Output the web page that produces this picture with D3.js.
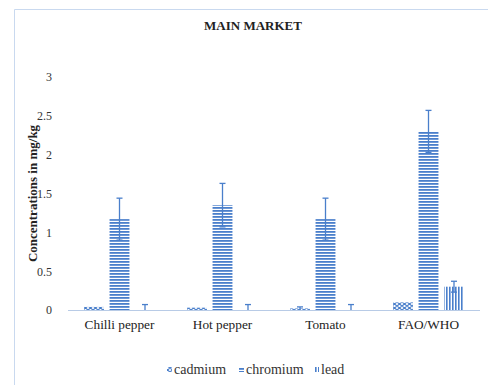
<!DOCTYPE html>
<html>
<head>
<meta charset="utf-8">
<script src="https://cdn.jsdelivr.net/npm/d3@7"></script>
<style>
  body { margin: 0; background: #fff; }
  svg { display: block; }
  svg text { font-family: 'Liberation Serif', 'Times New Roman', Times, serif; fill: #222; }
</style>
</head>
<body>
<svg id="chart" width="488" height="385"></svg>
<script>
// Heavy-metal concentrations (mg/kg) per sample, with standard-deviation error bars
const categories = ["Chilli pepper", "Hot pepper", "Tomato", "FAO/WHO"];
const metals = ["cadmium", "chromium", "lead"];
const cadmium = [0.04, 0.03, 0.02, 0.10];
const cadmiumErr = [0.00, 0.00, 0.02, 0.00];
const chromium = [1.17, 1.35, 1.17, 2.30];
const chromiumErr = [0.27, 0.28, 0.27, 0.27];
const lead = [0.00, 0.00, 0.00, 0.30];
const leadErr = [0.07, 0.07, 0.07, 0.07];
const yTicks = [0, 0.5, 1, 1.5, 2, 2.5, 3];

const values = { cadmium, chromium, lead };
const errors = { cadmium: cadmiumErr, chromium: chromiumErr, lead: leadErr };
const color = "#4a7fcb";
const serif = "'Liberation Serif', 'Times New Roman', serif";

const svg = d3.select("#chart");

// Chart frame (left and top edges)
svg.append("path")
  .attr("d", "M14.5,385 L14.5,9.5 L488,9.5")
  .attr("fill", "none").attr("stroke", "#c9d9ef").attr("stroke-width", 1);

// Fill patterns
const defs = svg.append("defs");
const pCd = defs.append("pattern").attr("id", "pat-cadmium")
  .attr("patternUnits", "userSpaceOnUse").attr("width", 5).attr("height", 4);
pCd.append("path").attr("d", "M0,2 L2.5,0 L5,2 L2.5,4 Z")
  .attr("fill", "none").attr("stroke", color).attr("stroke-width", 1.1);
const pCr = defs.append("pattern").attr("id", "pat-chromium")
  .attr("patternUnits", "userSpaceOnUse").attr("width", 4).attr("height", 3);
pCr.append("rect").attr("x", 0).attr("y", 0).attr("width", 4).attr("height", 1.8).attr("fill", color);
const pPb = defs.append("pattern").attr("id", "pat-lead")
  .attr("patternUnits", "userSpaceOnUse").attr("width", 3).attr("height", 4);
pPb.append("rect").attr("x", 0).attr("y", 0).attr("width", 1.6).attr("height", 4).attr("fill", color);

const margin = { left: 68, right: 480, top: 77, bottom: 310 };

const x = d3.scaleBand().domain(categories).range([margin.left, margin.right]).paddingInner(0).paddingOuter(0);
const xm = d3.scaleBand().domain(metals).range([0, x.bandwidth()]).paddingInner(0.22).paddingOuter(0.63);
const y = d3.scaleLinear().domain([0, 3]).range([margin.bottom, margin.top]);

// Title
svg.append("text").attr("x", 253).attr("y", 30).attr("text-anchor", "middle")
  .style("font-family", serif)
  .attr("font-size", 13).attr("font-weight", "bold").text("MAIN MARKET");

// Y axis labels
const yAxis = d3.axisLeft(y).tickValues(yTicks).tickSize(0).tickPadding(0).tickFormat(d3.format("~g"));
const yg = svg.append("g").attr("transform", `translate(${52},0)`).call(yAxis);
yg.attr("font-family", null);
yg.select(".domain").remove();
yg.selectAll("text").attr("font-size", 12).style("font-family", serif).style("fill", "#333")
  .attr("text-anchor", "end");

svg.append("text")
  .attr("transform", `translate(37,${(margin.top + margin.bottom) / 2}) rotate(-90)`)
  .style("font-family", serif)
  .attr("text-anchor", "middle").attr("font-size", 13).attr("font-weight", "bold")
  .text("Concentrations  in mg/kg");

// Bars
const groups = svg.append("g").selectAll("g").data(categories).join("g")
  .attr("transform", d => `translate(${x(d)},0)`);

metals.forEach(m => {
  groups.append("rect")
    .attr("x", xm(m))
    .attr("width", xm.bandwidth())
    .attr("y", (d, i) => y(values[m][i]))
    .attr("height", (d, i) => y(0) - y(values[m][i]))
    .attr("fill", `url(#pat-${m})`);
});

// Error bars
metals.forEach(m => {
  groups.each(function (d, i) {
    const e = errors[m][i];
    if (e <= 0) return;
    const g = d3.select(this);
    const cx = xm(m) + xm.bandwidth() / 2;
    const v = values[m][i];
    const lo = Math.max(0, v - e), hi = v + e;
    g.append("line").attr("x1", cx).attr("x2", cx).attr("y1", y(lo)).attr("y2", y(hi))
      .attr("stroke", color).attr("stroke-width", 1.3);
    [hi, lo].forEach(val => {
      if (val === 0) return;
      g.append("line").attr("x1", cx - 3).attr("x2", cx + 3).attr("y1", y(val)).attr("y2", y(val))
        .attr("stroke", color).attr("stroke-width", 1.3);
    });
  });
});

// X axis
const xAxis = d3.axisBottom(x).tickSize(0).tickPadding(10);
const xg = svg.append("g").attr("transform", `translate(0,${margin.bottom})`).call(xAxis);
xg.attr("font-family", null);
xg.select(".domain").attr("stroke", "#b8cbe6").attr("d", `M${margin.left},0.5H${margin.right}`);
xg.selectAll("text").attr("font-size", 13.3).style("font-family", serif).style("fill", "#222");

// Legend
const legendItems = [
  { key: "cadmium", x: 167 },
  { key: "chromium", x: 239 },
  { key: "lead", x: 314 }
];
const lg = svg.append("g").attr("transform", "translate(0,374)");
legendItems.forEach(it => {
  lg.append("rect").attr("x", it.x).attr("y", -7).attr("width", 5).attr("height", 5)
    .attr("fill", `url(#pat-${it.key})`);
  lg.append("text").attr("x", it.x + 7).attr("y", 0).attr("font-size", 14)
    .style("font-family", serif).style("fill", "#333").text(it.key);
});
</script>
</body>
</html>
